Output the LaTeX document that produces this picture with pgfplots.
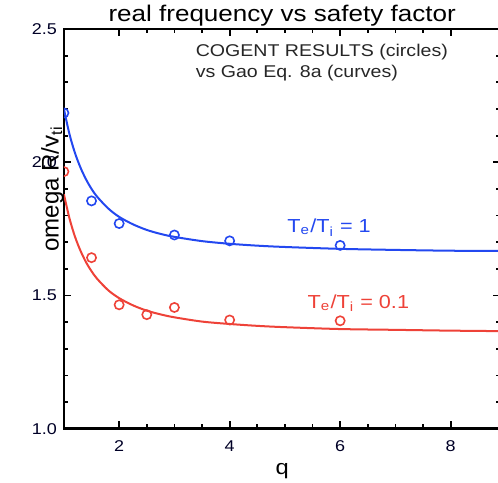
\documentclass[border=0pt]{standalone}
\usepackage{fontspec}
\setmainfont{Liberation Sans}
\usepackage{graphicx}
\usepackage{pgfplots}
\pgfplotsset{compat=1.18}
\definecolor{cblue}{RGB}{35,72,240}
\definecolor{cred}{RGB}{238,66,56}
\newcommand{\hs}[1]{\scalebox{1.15}[1]{#1}}
\begin{document}
\begin{tikzpicture}
\begin{axis}[
  scale only axis, width=217.9pt, height=199.5pt,
  xmin=1, xmax=8.9, ymin=1, ymax=2.5,
  xtick={2,4,6,8}, minor x tick num=3,
  ytick={1.0,1.5,2.0,2.5}, minor y tick num=4,
  /pgf/number format/assume math mode=true,
  xticklabel={\hs{\pgfmathprintnumber{\tick}}},
  yticklabel={\hs{\pgfmathprintnumber[fixed,fixed zerofill,precision=1]{\tick}}},
  tick label style={font=\fontsize{7.8}{9}\selectfont, text=black!85!blue},
  xticklabel style={yshift=-2.5pt},
  tick align=inside, major tick length=3.6pt, minor tick length=2.2pt,
  axis line style={line width=1.2pt},
  every tick/.style={black, line width=0.9pt},
  every axis title shift=0pt,
  title={\hs{real frequency vs safety factor}},
  title style={font=\fontsize{11.3}{13}\selectfont, at={(0.5,1)}, anchor=south, inner sep=0pt, yshift=1pt},
  xlabel={\hs{q}},
  xlabel style={font=\fontsize{10.3}{12}\selectfont, inner sep=0pt, yshift=-2pt},
  ylabel={omega R/v\textsubscript{ti}},
  ylabel style={font=\fontsize{12}{14}\selectfont, at={(rel axis cs:0,0.61)}, inner sep=0pt, xshift=-2pt},
  clip=true, clip marker paths=true,
]
% curves (Gao Eq. 8a)
\addplot[cblue, line width=1pt, smooth] coordinates {
 (1,2.200) (1.1,2.106) (1.2,2.035) (1.3,1.980) (1.4,1.936) (1.5,1.900) (1.6,1.871)
 (1.8,1.827) (2,1.795) (2.25,1.767) (2.5,1.746) (2.75,1.731) (3,1.720) (3.5,1.704)
 (4,1.694) (4.5,1.687) (5,1.682) (6,1.675) (7,1.671) (8,1.668) (9,1.667)};
\addplot[cred, line width=1pt, smooth] coordinates {
 (1,1.880) (1.1,1.790) (1.2,1.721) (1.3,1.668) (1.4,1.625) (1.5,1.591) (1.6,1.563)
 (1.8,1.520) (2,1.490) (2.25,1.463) (2.5,1.443) (2.75,1.429) (3,1.418) (3.5,1.402)
 (4,1.393) (4.5,1.386) (5,1.381) (6,1.374) (7,1.371) (8,1.368) (9,1.366)};
% COGENT results (circles)
\addplot[cblue, only marks, mark=o, mark size=2.3pt, mark options={line width=0.8pt}] coordinates {
 (1,2.185) (1.5,1.855) (2,1.770) (3,1.727) (4,1.705) (6,1.688)};
\addplot[cred, only marks, mark=o, mark size=2.3pt, mark options={line width=0.8pt}] coordinates {
 (1,1.965) (1.5,1.642) (2,1.465) (2.5,1.428) (3,1.455) (4,1.408) (6,1.405)};
\node[anchor=west, align=left, font=\fontsize{8.5}{10.5}\selectfont, text=black!85, inner sep=0pt] at (axis cs:3.38,2.375)
 {\hs{COGENT RESULTS (circles)}\\\hs{vs Gao Eq. 8a (curves)}};
\node[cblue, font=\fontsize{9.4}{11}\selectfont, inner sep=0pt] at (axis cs:5.8,1.755) {\hs{T\textsubscript{e}/T\textsubscript{i} = 1}};
\node[cred, font=\fontsize{9.4}{11}\selectfont, inner sep=0pt] at (axis cs:6.33,1.47) {\hs{T\textsubscript{e}/T\textsubscript{i} = 0.1}};
\coordinate (A) at (rel axis cs:0,0);
\coordinate (B) at (rel axis cs:1,1);
\end{axis}
\pgfresetboundingbox
\path[use as bounding box] ([xshift=-31.9pt,yshift=-27pt]A) rectangle ([xshift=-1.2pt,yshift=14.5pt]B);
\end{tikzpicture}
\end{document}
